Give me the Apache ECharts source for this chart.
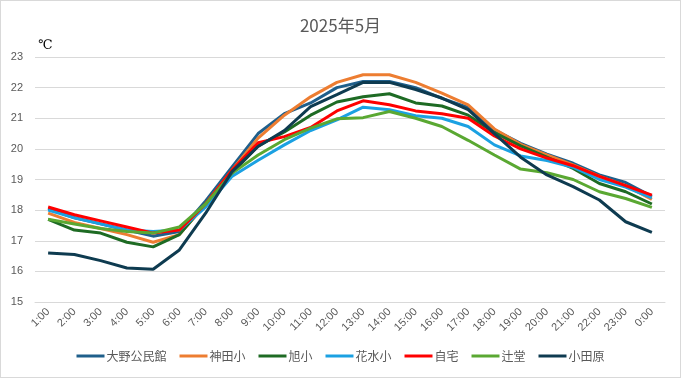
<!DOCTYPE html>
<html><head><meta charset="utf-8">
<script src="https://cdn.jsdelivr.net/npm/echarts@6/dist/echarts.min.js"></script>
<style>html,body{margin:0;padding:0;background:#fff}#c{width:681px;height:378px;box-sizing:border-box;border:1px solid #d9d9d9}</style>
</head><body><div id="c"></div>
<script>
const hours = ['1:00','2:00','3:00','4:00','5:00','6:00','7:00','8:00','9:00','10:00','11:00','12:00','13:00','14:00','15:00','16:00','17:00','18:00','19:00','20:00','21:00','22:00','23:00','0:00'];
const seriesNames = ['大野公民館','神田小','旭小','花水小','自宅','辻堂','小田原'];
const oono   = [18.05,17.75,17.55,17.35,17.15,17.3,18.3,19.4,20.5,21.15,21.5,22.0,22.2,22.2,22.0,21.65,21.35,20.62,20.18,19.83,19.53,19.15,18.9,18.45];
const kanda  = [17.9,17.6,17.4,17.2,16.95,17.2,18.2,19.3,20.35,21.1,21.7,22.17,22.42,22.42,22.17,21.82,21.44,20.65,20.15,19.8,19.48,19.1,18.8,18.35];
const asahi  = [17.7,17.35,17.25,16.95,16.8,17.2,18.2,19.2,20.1,20.55,21.1,21.53,21.7,21.8,21.5,21.4,21.1,20.53,20.1,19.73,19.36,18.87,18.6,18.2];
const hanami = [18.0,17.75,17.55,17.35,17.3,17.35,18.1,19.1,19.63,20.13,20.6,20.95,21.36,21.28,21.08,21.0,20.73,20.13,19.77,19.62,19.4,19.0,18.75,18.4];
const jitaku = [18.1,17.85,17.65,17.45,17.25,17.35,18.2,19.3,20.2,20.4,20.7,21.24,21.57,21.44,21.24,21.15,21.0,20.42,20.0,19.7,19.45,19.1,18.8,18.49];
const tsujido= [17.7,17.55,17.4,17.3,17.25,17.45,18.2,19.2,19.8,20.3,20.68,20.98,21.02,21.22,21.0,20.73,20.28,19.8,19.34,19.22,19.0,18.6,18.38,18.09];
const odawara= [16.6,16.55,16.35,16.11,16.07,16.7,17.9,19.25,20.08,20.6,21.38,21.77,22.17,22.17,21.94,21.66,21.28,20.5,19.73,19.15,18.77,18.33,17.62,17.27];
const yTicks = [15,16,17,18,19,20,21,22,23];
const colors = ['#1f5f8b','#ed7d31','#1e6b24','#1ba1e2','#ff0000','#5aa832','#0e3b50'];
const dataArr = [oono,kanda,asahi,hanami,jitaku,tsujido,odawara];

const chart = echarts.init(document.getElementById('c'));
chart.setOption({
  animation:false,
  color: colors,
  title:{text:'2025年5月',left:'center',top:11,textStyle:{fontFamily:'Noto Sans CJK JP',fontSize:17,fontWeight:'normal',color:'#595959'}},
  grid:{left:34,right:15,top:56,bottom:75,containLabel:false},
  legend:{bottom:10,left:'center',icon:'rect',itemWidth:28,itemHeight:3,itemGap:13,
    textStyle:{fontFamily:'Noto Sans CJK JP',fontSize:12,color:'#595959',padding:[0,0,0,-3]},
    data:seriesNames},
  xAxis:{type:'category',data:hours,boundaryGap:true,
    axisLine:{lineStyle:{color:'#d9d9d9'}},axisTick:{show:false},
    axisLabel:{rotate:45,interval:0,fontFamily:'Liberation Sans',fontSize:11,color:'#595959',margin:8}},
  yAxis:{type:'value',min:yTicks[0],max:yTicks[yTicks.length-1],interval:1,
    name:'℃',nameLocation:'end',nameGap:5,
    nameTextStyle:{align:'left',color:'#000',fontSize:13,fontFamily:'DejaVu Serif',padding:[0,0,0,3]},
    axisLine:{show:false},axisTick:{show:false},
    splitLine:{lineStyle:{color:'#d9d9d9'}},
    axisLabel:{fontFamily:'Liberation Sans',fontSize:11,color:'#595959',margin:12}},
  series: seriesNames.map((n,i)=>({name:n,type:'line',data:dataArr[i],symbol:'none',lineStyle:{width:3,color:colors[i]},itemStyle:{color:colors[i]}}))
});
</script></body></html>
